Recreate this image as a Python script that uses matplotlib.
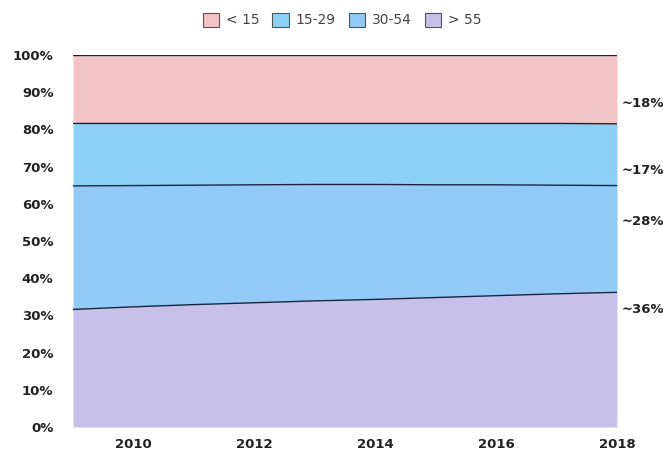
import matplotlib
matplotlib.use("Agg")
import matplotlib.pyplot as plt
import numpy as np
from matplotlib.patches import Patch

years = [2009, 2010, 2011, 2012, 2013, 2014, 2015, 2016, 2017, 2018]
over55 = [31.6, 32.3, 32.9, 33.4, 33.9, 34.3, 34.8, 35.3, 35.8, 36.2]
age30_54 = [33.2, 32.6, 32.1, 31.7, 31.3, 30.9, 30.3, 29.8, 29.2, 28.7]
age15_29 = [16.8, 16.7, 16.6, 16.5, 16.4, 16.4, 16.5, 16.5, 16.6, 16.6]
under15 = [18.4, 18.4, 18.4, 18.4, 18.4, 18.4, 18.4, 18.4, 18.4, 18.5]
series_labels = ["< 15", "15-29", "30-54", "> 55"]
end_labels = ["~18%", "~17%", "~28%", "~36%"]
xticks = [2010, 2012, 2014, 2016, 2018]
yticks = list(range(0, 101, 10))

colors = {"< 15": "#f3c4c6", "15-29": "#8dd0f6", "30-54": "#92caf5", "> 55": "#c6c0ea"}
line_color = "#1a2340"

fig = plt.figure(figsize=(6.63, 4.55), dpi=100)
ax = fig.add_axes([73 / 663, 28 / 455, 544 / 663, 372 / 455])

stack_order = [("> 55", over55), ("30-54", age30_54), ("15-29", age15_29), ("< 15", under15)]
base = np.zeros(len(years))
for name, vals in stack_order:
    top = base + np.array(vals)
    ax.fill_between(years, base, top, color=colors[name], linewidth=0)
    ax.plot(years, top, color=line_color, linewidth=1.0)
    base = top

ax.set_xlim(2009, 2018)
ax.set_ylim(0, 100)
for s in ax.spines.values():
    s.set_visible(False)
ax.set_xticks(xticks)
ax.set_xticklabels([str(x) for x in xticks], fontsize=9.5, fontweight="bold", color="#222222")
ax.set_yticks(yticks)
ax.set_yticklabels([f"{y}%" for y in yticks], fontsize=9.5, fontweight="bold", color="#222222")
ax.tick_params(axis="both", length=0)
ax.tick_params(axis="x", pad=8)
ax.tick_params(axis="y", pad=14)

# end annotations
label_y = [87.0, 69.0, 55.2, 31.5]
for txt, yv in zip(end_labels, label_y):
    ax.text(2018.08, yv, txt, fontsize=9.5, fontweight="bold", color="#222222",
            va="center", ha="left", clip_on=False)

handles = [Patch(facecolor=colors[n], edgecolor="#555555", linewidth=0.8) for n in series_labels]
fig.legend(handles, series_labels, loc="upper center", bbox_to_anchor=(0.516, 1.0), ncol=4,
           frameon=False, fontsize=10, handlelength=1.2, handleheight=1.2,
           handletextpad=0.5, columnspacing=0.9, labelcolor="#444444")

fig.savefig("out.png", dpi=100, facecolor="white")
